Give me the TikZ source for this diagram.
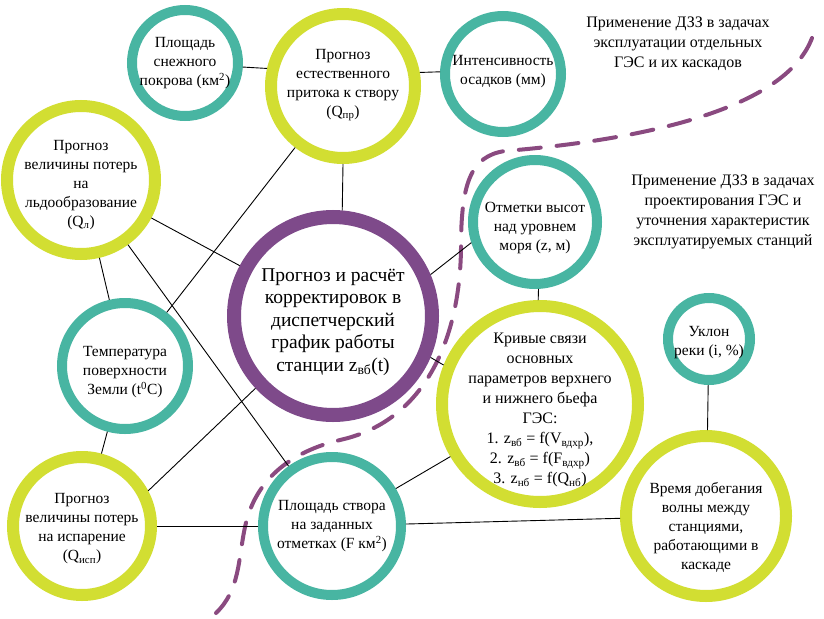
\documentclass[tikz,border=0pt]{standalone}
\usepackage{fontspec}
\setmainfont{Liberation Serif}
\definecolor{tealc}{RGB}{72,181,162}
\definecolor{yelc}{RGB}{210,222,50}
\definecolor{purc}{RGB}{126,74,138}
\definecolor{dashc}{RGB}{138,74,128}
\begin{document}
\begin{tikzpicture}[x=1pt,y=-1pt,
  tealring/.style={circle,draw=tealc,line width=10pt,inner sep=0pt,fill=white},
  yelring/.style={circle,draw=yelc,line width=12pt,inner sep=0pt,fill=white},
  purring/.style={circle,draw=purc,line width=14pt,inner sep=0pt,fill=white},
  txt/.style={align=center,inner sep=0pt,font=\rmfamily\fontsize{15.5}{19}\selectfont},
  bigtxt/.style={align=center,inner sep=0pt,font=\rmfamily\fontsize{19.5}{22.5}\selectfont},
  conn/.style={draw=black,line width=0.9pt},
  divider/.style={draw=dashc,line width=4pt,line cap=round,dash pattern=on 22pt off 16pt}]
\useasboundingbox (0,0) rectangle (824,618);

% dashed divider
\draw[divider] (812,38) .. controls (785,110) and (640,140) .. (505,151)
  .. controls (470,156) and (462,185) .. (461,240)
  .. controls (462,330) and (430,420) .. (340,440)
  .. controls (290,452) and (255,480) .. (245,527)
  .. controls (238,560) and (240,590) .. (216,613);

% circles
\node[tealring,minimum size=106pt,label={[txt]center:{Площадь\\снежного\\покрова (км\textsuperscript{2})}}] (sneg) at (185,63) {};
\node[yelring,minimum size=144pt,label={[txt,yshift=1pt]center:{Прогноз\\естественного\\притока к створу\\(Q\textsubscript{пр})}}] (prit) at (343,86) {};
\node[tealring,minimum size=116pt,label={[txt,yshift=2pt]center:{Интенсивность\\осадков (мм)}}] (intens) at (503,74) {};
\node[yelring,minimum size=148pt,label={[txt,yshift=-5pt]center:{Прогноз\\величины потерь\\на\\льдообразование\\(Q\textsubscript{л})}}] (led) at (81,180) {};
\node[purring,minimum size=198pt,label={[bigtxt,yshift=-6pt]center:{Прогноз и расчёт\\корректировок в\\диспетчерский\\график работы\\станции z\textsubscript{вб}(t)}}] (main) at (333,316) {};
\node[tealring,minimum size=124pt,label={[txt,yshift=-6pt]center:{Отметки высот\\над уровнем\\моря (z, м)}}] (otm) at (535,222) {};
\node[tealring,minimum size=126pt,label={[txt,yshift=-6pt]center:{Температура\\поверхности\\Земли (t\textsuperscript{0}C)}}] (temp) at (125,366) {};
\node[yelring,minimum size=138pt,label={[txt,yshift=-3pt]center:{Прогноз\\величины потерь\\на испарение\\(Q\textsubscript{исп})}}] (isp) at (82,526) {};
\node[tealring,minimum size=138pt,label={[txt]center:{Площадь створа\\на заданных\\отметках (F км\textsuperscript{2})}}] (plo) at (332,526) {};
\node[yelring,minimum size=196pt,label={[txt,yshift=-6pt,font=\rmfamily\fontsize{16}{20}\selectfont]center:{Кривые связи\\основных\\параметров верхнего\\и нижнего бьефа\\ГЭС:\\1. z\textsubscript{вб} = f(V\textsubscript{вдхр}),\\2. z\textsubscript{вб} = f(F\textsubscript{вдхр})\\3. z\textsubscript{нб} = f(Q\textsubscript{нб})}}] (kriv) at (540,404) {};
\node[tealring,minimum size=82pt,label={[txt,yshift=-4pt]center:{Уклон\\реки (i, \%)}}] (uklon) at (709,339) {};
\node[yelring,minimum size=160pt,label={[txt,yshift=-11pt]center:{Время добегания\\волны между\\станциями,\\работающими в\\каскаде}}] (vrem) at (706,516) {};

% region labels
\node[txt,font=\rmfamily\fontsize{16}{20}\selectfont] (lab1) at (678,44) {Применение ДЗЗ в задачах\\эксплуатации отдельных\\ГЭС и их каскадов};
\node[txt,font=\rmfamily\fontsize{16}{20}\selectfont] (lab2) at (723,212) {Применение ДЗЗ в задачах\\проектирования ГЭС и\\уточнения характеристик\\эксплуатируемых станций};

% connectors
\draw[conn] (sneg.-4) -- (prit.167);
\draw[conn] (prit.10) -- (intens.178);
\draw[conn] (prit.south) -- (main.85);
\draw[conn] (prit) -- (temp);
\draw[conn] (led) -- (main);
\draw[conn] (led) -- (plo);
\draw[conn] (led) -- (temp);
\draw[conn] (temp) -- (isp);
\draw[conn] (isp) -- (plo);
\draw[conn] (plo) -- (vrem);
\draw[conn] (plo) -- (kriv);
\draw[conn] (main.-23) -- (kriv.158);
\draw[conn] (main.23) -- (otm.198);
\draw[conn] (main.223) -- (isp.28);
\draw[conn] (otm.-87) -- (kriv.91);
\draw[conn] (uklon.-91) -- (vrem.89);
\end{tikzpicture}
\end{document}
